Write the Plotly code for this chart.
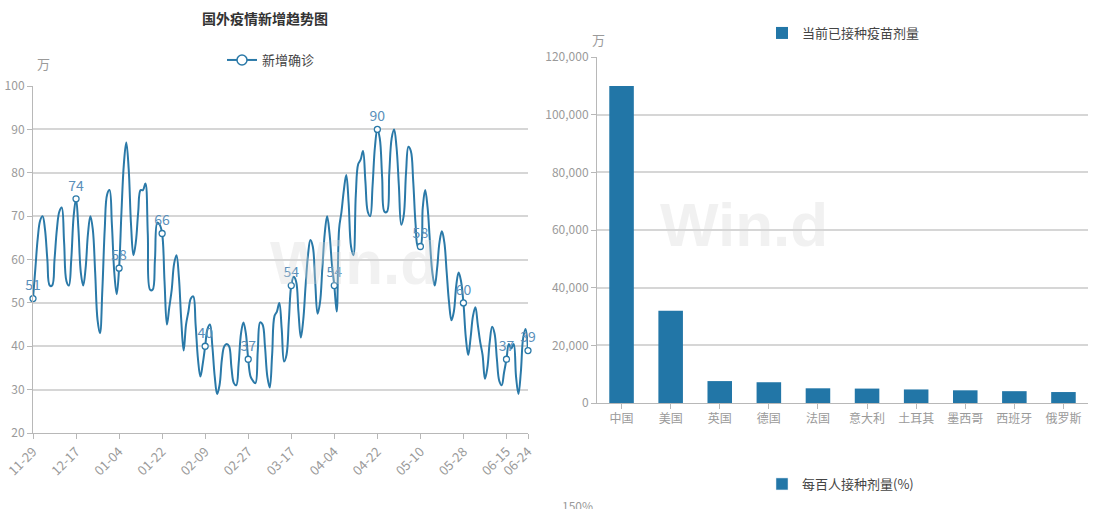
import plotly.graph_objects as go
import pandas as pd

# ---------------- data ----------------
dates = pd.date_range("2020-11-29", "2021-06-24", freq="D").strftime("%m-%d").tolist()

new_cases = [
    51, 58, 65, 69, 70, 67, 60, 54, 54, 60,
    67, 71, 72, 64, 55, 54, 60, 70, 74, 67,
    57, 54, 58, 66, 70, 67, 57, 46, 43, 53,
    67, 75, 76, 68, 57, 52, 58, 71, 82, 87,
    81, 68, 61, 64, 71, 76, 76, 77.5, 66, 53,
    53, 60, 68.5, 68, 66, 55, 45, 49, 53, 59,
    61, 56, 46, 39, 45, 48, 51, 51.5, 45, 37,
    33, 36, 40, 44, 45, 40, 33, 29, 31, 37,
    40, 40.5, 40, 35, 31.5, 31, 36, 43, 45.5, 43,
    37, 33, 32, 31.5, 39, 45.5, 45, 40, 33, 30.5,
    38, 47, 48, 50, 44, 36.5, 38, 46, 54, 56,
    55, 48, 42, 46, 54, 61, 64.5, 63, 55, 47.5,
    50, 58, 66, 70, 66, 59, 54, 48, 67, 71,
    76, 79.5, 73, 63, 61, 75, 82, 83, 85, 78,
    71, 70, 77, 86, 90, 88, 79, 71, 71, 80,
    88, 90, 86, 77, 68, 70, 80, 86, 85, 78,
    68, 63, 63, 72, 76, 72, 64, 57, 54, 58,
    64, 66.5, 64, 57, 50, 46, 48, 54, 57, 55,
    50, 42, 38, 42, 47, 49, 45, 41, 38, 32.5,
    35, 41, 44.5, 43, 37, 32, 31, 34, 37, 40.5,
    39.5, 40.5, 33, 29, 34, 42, 44, 39,
]

tick_dates = ["11-29", "12-17", "01-04", "01-22", "02-09", "02-27", "03-17",
              "04-04", "04-22", "05-10", "05-28", "06-15", "06-24"]
marker_labels = ["51", "74", "58", "66", "40", "37", "54", "54", "90", "58", "60", "37", "39"]

countries = ["中国", "美国", "英国", "德国", "法国", "意大利", "土耳其", "墨西哥", "西班牙", "俄罗斯"]
doses = [109900, 32000, 7600, 7200, 5100, 5000, 4700, 4400, 4100, 3800]

# ---------------- styling ----------------
W, H = 1098, 509
LINE = "#2a79a8"
BAR = "#2276a7"
GRID = "#d6d6d6"
AXIS = "#b8b8b8"
TICK = "#9a9a9a"
FONT = "Liberation Sans Narrow, Noto Sans CJK SC, sans-serif"


def px(x):
    return x / W


def py(y):
    return 1 - y / H


fig = go.Figure()

# line chart
fig.add_trace(go.Scatter(
    x=dates, y=new_cases, mode="lines", name="新增确诊", showlegend=False,
    line=dict(color=LINE, width=2, shape="spline", smoothing=1.1),
    xaxis="x", yaxis="y", hoverinfo="skip"))

marker_vals = [new_cases[dates.index(d)] for d in tick_dates]
fig.add_trace(go.Scatter(
    x=tick_dates, y=marker_vals, mode="markers+text", text=marker_labels,
    textposition="top center", showlegend=False,
    textfont=dict(color="#5a8fba", size=14, family=FONT),
    marker=dict(symbol="circle", size=6, color="white", line=dict(color=LINE, width=1.3)),
    xaxis="x", yaxis="y", cliponaxis=False, hoverinfo="skip"))

# legend entry for line
fig.add_trace(go.Scatter(
    x=[None], y=[None], mode="lines+markers", name="新增确诊",
    line=dict(color=LINE, width=2),
    marker=dict(symbol="circle", size=10, color="white", line=dict(color=LINE, width=1.5)),
    xaxis="x", yaxis="y", legend="legend"))

# bar chart
fig.add_trace(go.Bar(
    x=countries, y=doses, name="当前已接种疫苗剂量", marker=dict(color=BAR, line=dict(width=0)),
    xaxis="x2", yaxis="y2", legend="legend2", width=0.5))

# legend of the (cut-off) third chart
fig.add_trace(go.Bar(
    x=[None], y=[None], name="每百人接种剂量(%)", marker=dict(color=BAR),
    xaxis="x2", yaxis="y2", legend="legend3"))

axis_common = dict(showline=True, linecolor=AXIS, linewidth=1, ticks="outside",
                   tickcolor=AXIS, ticklen=5, zeroline=False, automargin=False)
tickf = dict(color=TICK, size=12, family=FONT)

fig.update_layout(
    width=W, height=H, margin=dict(l=0, r=0, t=0, b=0, autoexpand=False),
    paper_bgcolor="white", plot_bgcolor="white",
    font=dict(family=FONT),
    bargap=0.5,
    xaxis=dict(domain=[px(33), px(528)], type="category", range=[0, len(dates) - 1],
               tickmode="array", tickvals=tick_dates, ticktext=tick_dates, tickangle=-45,
               tickfont=dict(color=TICK, size=13, family=FONT),
               showgrid=False, anchor="y", **axis_common),
    yaxis=dict(domain=[py(433), py(86)], range=[20, 100], dtick=10, showgrid=True,
               tickfont=tickf, gridcolor=GRID, gridwidth=1.5, anchor="x", **axis_common),
    xaxis2=dict(domain=[px(597), px(1088)], type="category", showgrid=False, anchor="y2",
                tickfont=tickf, **axis_common),
    yaxis2=dict(domain=[py(403), py(57)], range=[0, 120000], dtick=20000, tickformat=",",
                tickfont=tickf, showgrid=True, gridcolor=GRID, gridwidth=1.5, anchor="x2",
                **axis_common),
    legend=dict(x=px(222), y=py(60), xanchor="left", yanchor="middle", orientation="h",
                font=dict(size=13, color="#444", family=FONT), bgcolor="rgba(0,0,0,0)"),
    legend2=dict(x=px(762), y=py(33), xanchor="left", yanchor="middle", orientation="h",
                 font=dict(size=13, color="#444", family=FONT), bgcolor="rgba(0,0,0,0)"),
    legend3=dict(x=px(762), y=py(484), xanchor="left", yanchor="middle", orientation="h",
                 font=dict(size=13, color="#444", family=FONT), bgcolor="rgba(0,0,0,0)"),
    annotations=[
        dict(text="<b>国外疫情新增趋势图</b>", x=px(265), y=py(18), xref="paper", yref="paper",
             showarrow=False, font=dict(size=14, color="#333", family=FONT), xanchor="center",
             yanchor="middle"),
        dict(text="万", x=px(35), y=py(52), xref="paper", yref="paper", showarrow=False,
             font=dict(size=13, color=TICK, family=FONT)),
        dict(text="万", x=px(598), y=py(28), xref="paper", yref="paper", showarrow=False,
             font=dict(size=13, color=TICK, family=FONT)),
        dict(text="150%", x=px(577), y=py(505), xref="paper", yref="paper", showarrow=False,
             font=dict(size=12, color=TICK, family=FONT), yanchor="middle"),
    ],
)

# light watermarks (behind data)
for wx, wy in [(268, 262), (830, 225)]:
    fig.add_annotation(text="<b>Win.d</b>", x=px(wx), y=py(wy), xref="paper", yref="paper",
                       showarrow=False, font=dict(size=62, color="rgba(215,215,215,0.35)",
                                                  family="Liberation Sans Narrow, Arial"))

fig.write_html("out.html")
